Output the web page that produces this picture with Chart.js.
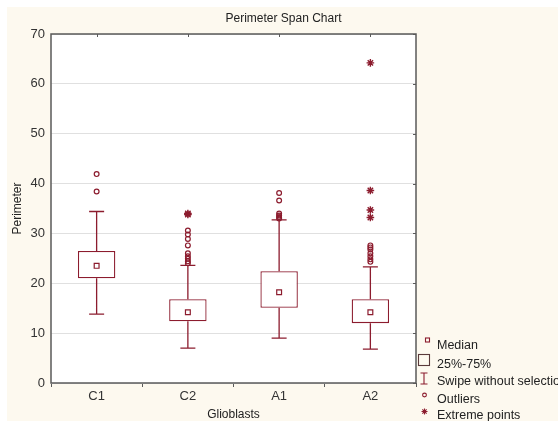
<!DOCTYPE html>
<html>
<head>
<meta charset="utf-8">
<title>Perimeter Span Chart</title>
<script src="https://cdn.jsdelivr.net/npm/chart.js@4.4.1/dist/chart.umd.min.js"></script>
<style>
    html, body { margin: 0; padding: 0; background: #fff; }
    #wrap { width: 558px; height: 421px; }
</style>
</head>
<body>
<div id="wrap"><canvas id="spanCanvas" width="558" height="421"></canvas></div>
<script>
// data
const categories = ['C1', 'C2', 'A1', 'A2'];
const whiskerLow = [13.8, 7.0, 9.0, 6.8];
const boxLow = [21.0, 12.4, 15.1, 12.0];
const medians = [23.5, 14.2, 18.2, 14.2];
const boxHigh = [26.5, 16.8, 22.4, 16.8];
const whiskerHigh = [34.4, 23.6, 32.7, 23.3];

const outliersC1 = [41.9, 38.4];
const outliersC2 = [30.6, 29.8, 28.9, 27.6, 26.0, 25.4, 24.9, 24.4, 24.0];
const outliersA1 = [38.1, 36.6, 34.0, 33.6, 33.3, 33.0];
const outliersA2 = [27.6, 27.2, 26.8, 26.0, 25.4, 24.8, 24.3];

const extremesC2 = [34.0, 33.8];
const extremesA2 = [64.2, 38.6, 34.7, 33.2];

const yTicks = [0, 10, 20, 30, 40, 50, 60, 70];
const legendLabels = ['Median', '25%-75%', 'Swipe without selection', 'Outliers', 'Extreme points'];

const boxColor = '#8c1c2e';
const fontFamily = "'Liberation Sans', Arial, sans-serif";

function toPoints(cat, values) {
    return values.map(v => ({ x: cat, y: v }));
}

// background: cream page, white plot area
const backdrop = {
    id: 'backdrop',
    beforeDraw(chart) {
        const ctx = chart.ctx;
        const a = chart.chartArea;
        ctx.save();
        ctx.fillStyle = '#ffffff';
        ctx.fillRect(0, 0, chart.width, chart.height);
        ctx.fillStyle = '#fdf9ef';
        ctx.fillRect(7, 7, chart.width - 7, chart.height - 7);
        ctx.fillStyle = '#ffffff';
        ctx.fillRect(a.left, a.top, a.right - a.left, a.bottom - a.top);
        ctx.restore();
    }
};

// frame and whiskers
const whiskers = {
    id: 'whiskers',
    beforeDatasetsDraw(chart) {
        const ctx = chart.ctx;
        const a = chart.chartArea;
        const xs = chart.scales.x;
        const ys = chart.scales.y;
        ctx.save();

        ctx.strokeStyle = '#5a5a5a';
        ctx.lineWidth = 1.5;
        ctx.strokeRect(a.left, a.top, a.right - a.left, a.bottom - a.top);

        ctx.lineWidth = 1;
        ctx.beginPath();
        categories.forEach((c, i) => {
            const px = Math.round(xs.getPixelForValue(i)) + 0.5;
            ctx.moveTo(px, a.top);
            ctx.lineTo(px, a.top + 3);
        });
        yTicks.forEach(v => {
            const py = Math.round(ys.getPixelForValue(v)) + 0.5;
            ctx.moveTo(a.right, py);
            ctx.lineTo(a.right - 3, py);
        });
        ctx.stroke();

        ctx.strokeStyle = boxColor;
        ctx.lineWidth = 1.3;
        const cap = 7.5;
        ctx.beginPath();
        categories.forEach((c, i) => {
            const px = xs.getPixelForValue(i);
            [[boxHigh[i], whiskerHigh[i]], [boxLow[i], whiskerLow[i]]].forEach(seg => {
                const y0 = ys.getPixelForValue(seg[0]);
                const y1 = ys.getPixelForValue(seg[1]);
                ctx.moveTo(px, y0);
                ctx.lineTo(px, y1);
                ctx.moveTo(px - cap, y1);
                ctx.lineTo(px + cap, y1);
            });
        });
        ctx.stroke();
        ctx.restore();
    }
};

// legend at the lower right
const boxLegend = {
    id: 'boxLegend',
    afterDraw(chart) {
        const ctx = chart.ctx;
        const tx = 437;
        const rows = [346, 364.5, 382, 400, 415.5];
        ctx.save();
        ctx.strokeStyle = boxColor;
        ctx.lineWidth = 1.1;

        // median
        ctx.strokeRect(425.5, 338, 4, 4);

        // 25%-75%
        ctx.strokeStyle = '#5a3a3a';
        ctx.strokeRect(418.5, 354.5, 11, 11);

        // whisker
        ctx.strokeStyle = boxColor;
        ctx.beginPath();
        ctx.moveTo(424, 373);
        ctx.lineTo(424, 384);
        ctx.moveTo(420.5, 373);
        ctx.lineTo(427.5, 373);
        ctx.moveTo(420.5, 384);
        ctx.lineTo(427.5, 384);
        ctx.stroke();

        // outliers
        ctx.beginPath();
        ctx.arc(424.5, 395, 1.9, 0, Math.PI * 2);
        ctx.stroke();

        // extreme
        Chart.helpers.drawPoint(ctx, { pointStyle: 'star', radius: 3, rotation: 0, borderWidth: 1.1 }, 424.5, 411.5);

        ctx.fillStyle = '#222';
        ctx.font = '12.5px ' + fontFamily;
        ctx.textBaseline = 'middle';
        ctx.textAlign = 'left';
        legendLabels.forEach((t, i) => ctx.fillText(t, tx, rows[i]));
        ctx.restore();
    }
};

const pointCommon = {
    type: 'line',
    showLine: false,
    borderColor: boxColor,
    backgroundColor: '#ffffff',
    pointBorderColor: boxColor,
    pointBackgroundColor: 'rgba(255,255,255,0)'
};

const ctx = document.getElementById('spanCanvas').getContext('2d');
const spanChart = new Chart(ctx, {
    type: 'bar',
    data: {
        labels: categories,
        datasets: [
            {
                label: '25%-75%',
                data: boxLow.map((v, i) => [v, boxHigh[i]]),
                backgroundColor: '#ffffff',
                borderColor: boxColor,
                borderWidth: 1.3,
                borderSkipped: false,
                barPercentage: 0.41,
                categoryPercentage: 1.0,
                order: 3
            },
            Object.assign({}, pointCommon, {
                label: 'Median',
                data: medians.map((v, i) => ({ x: categories[i], y: v })),
                pointStyle: 'rect',
                pointRadius: 3.4,
                pointBorderWidth: 1.2,
                order: 2
            }),
            Object.assign({}, pointCommon, {
                label: 'Outliers',
                data: [].concat(
                    toPoints('C1', outliersC1),
                    toPoints('C2', outliersC2),
                    toPoints('A1', outliersA1),
                    toPoints('A2', outliersA2)
                ),
                pointStyle: 'circle',
                pointRadius: 2.4,
                pointBorderWidth: 1.2,
                order: 1
            }),
            Object.assign({}, pointCommon, {
                label: 'Extreme points',
                data: [].concat(toPoints('C2', extremesC2), toPoints('A2', extremesA2)),
                pointStyle: 'star',
                pointRadius: 3.8,
                pointBorderWidth: 1.4,
                order: 0
            })
        ]
    },
    options: {
        responsive: false,
        devicePixelRatio: 1,
        animation: false,
        events: [],
        layout: { padding: { left: 9, right: 0, top: 0, bottom: 0 } },
        plugins: {
            legend: { display: false },
            tooltip: { enabled: false },
            title: {
                display: true,
                text: 'Perimeter Span Chart',
                color: '#222',
                font: { family: fontFamily, size: 12, weight: 'normal' },
                padding: { top: 11, bottom: 8.6 }
            }
        },
        scales: {
            x: {
                offset: true,
                grid: {
                    display: true,
                    drawOnChartArea: false,
                    drawTicks: true,
                    tickLength: 4,
                    color: '#5a5a5a'
                },
                border: { display: false },
                ticks: {
                    color: '#333',
                    padding: 2,
                    font: { family: fontFamily, size: 13 }
                },
                title: {
                    display: true,
                    text: 'Glioblasts',
                    color: '#222',
                    font: { family: fontFamily, size: 12, lineHeight: 1 },
                    padding: { top: 0, bottom: 0 }
                },
                afterFit: function(scale) {
                    scale.height = 38;
                }
            },
            y: {
                min: 0,
                max: 70,
                grid: {
                    color: '#e0e0e0',
                    drawTicks: false
                },
                border: { display: false },
                ticks: {
                    stepSize: 10,
                    color: '#333',
                    padding: 6,
                    font: { family: fontFamily, size: 13 }
                },
                title: {
                    display: true,
                    text: 'Perimeter',
                    color: '#222',
                    font: { family: fontFamily, size: 12 },
                    padding: { top: 1.8, bottom: 0 }
                },
                afterFit: function(scale) {
                    scale.width = 42;
                }
            },
            // empty right-hand axis that keeps room for the legend
            legendSpace: {
                type: 'linear',
                axis: 'y',
                position: 'right',
                display: true,
                grid: { display: false, drawTicks: false },
                border: { display: false },
                ticks: { display: false },
                afterFit: function(scale) {
                    scale.width = 142;
                }
            }
        }
    },
    plugins: [backdrop, whiskers, boxLegend]
});
</script>
</body>
</html>
